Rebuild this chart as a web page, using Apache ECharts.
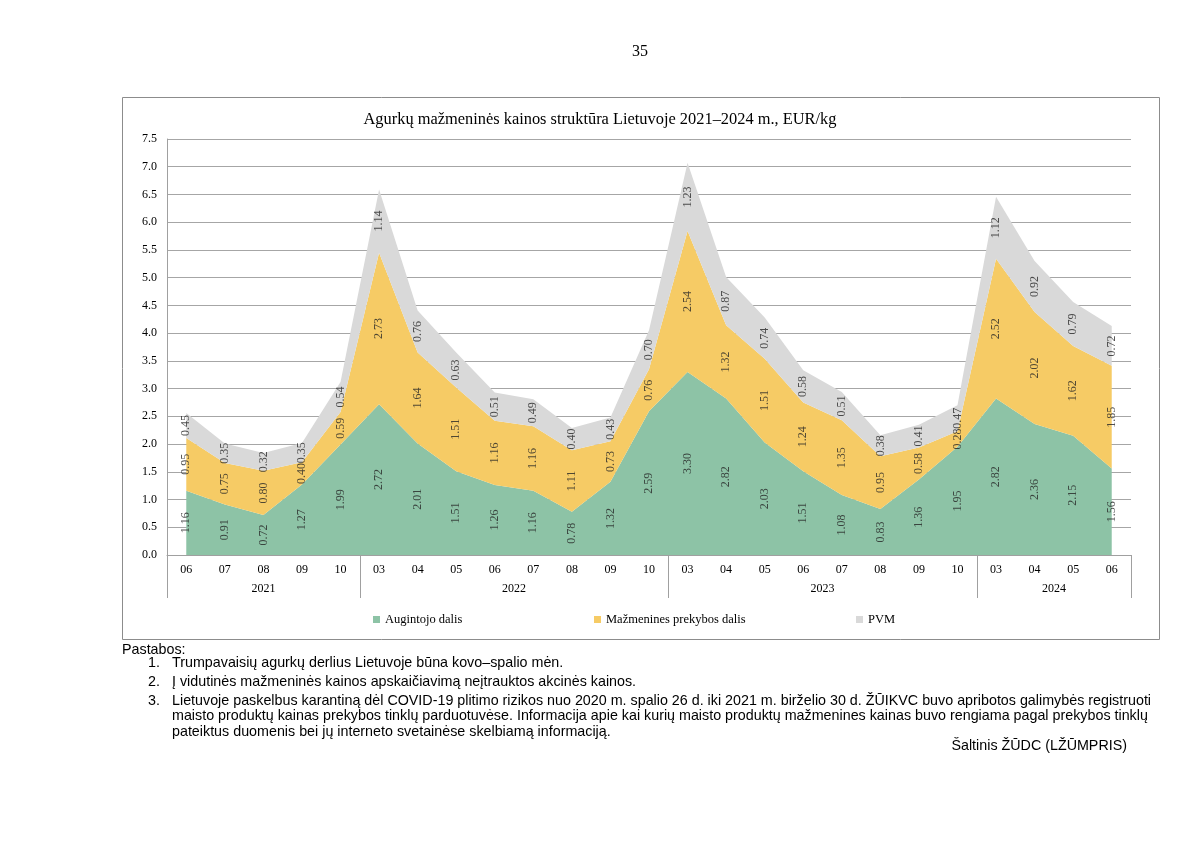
<!DOCTYPE html>
<html>
<head>
<meta charset="utf-8">
<script src="https://cdn.jsdelivr.net/npm/echarts@6/dist/echarts.min.js"></script>
<style>
html,body{margin:0;padding:0;background:#fff;}
#chart{width:1200px;height:849px;}
</style>
</head>
<body>
<div id="chart"></div>
<script>
// ---- data ----
const months = ['06','07','08','09','10',
  '03','04','05','06','07','08','09','10',
  '03','04','05','06','07','08','09','10',
  '03','04','05','06'];
const yearOfCategory = ['2021','2021','2021','2021','2021',
  '2022','2022','2022','2022','2022','2022','2022','2022',
  '2023','2023','2023','2023','2023','2023','2023','2023',
  '2024','2024','2024','2024'];
const augintojo = [1.16,0.91,0.72,1.27,1.99,
  2.72,2.01,1.51,1.26,1.16,0.78,1.32,2.59,
  3.30,2.82,2.03,1.51,1.08,0.83,1.36,1.95,
  2.82,2.36,2.15,1.56];
const mazmenines = [0.95,0.75,0.80,0.40,0.59,
  2.73,1.64,1.51,1.16,1.16,1.11,0.73,0.76,
  2.54,1.32,1.51,1.24,1.35,0.95,0.58,0.28,
  2.52,2.02,1.62,1.85];
const pvm = [0.45,0.35,0.32,0.35,0.54,
  1.14,0.76,0.63,0.51,0.49,0.40,0.43,0.70,
  1.23,0.87,0.74,0.58,0.51,0.38,0.41,0.47,
  1.12,0.92,0.79,0.72];
const seriesNames = ['Augintojo dalis','Mažmenines prekybos dalis','PVM'];
const colors = ['#8dc3a6','#f6cb65','#d9d9d9'];

// ---- derived year groups ----
const groups = [];
yearOfCategory.forEach((y,i)=>{
  if(!groups.length || groups[groups.length-1].year!==y) groups.push({year:y,start:i,end:i+1});
  else groups[groups.length-1].end=i+1;
});
const boundaries = [0].concat(groups.map(g=>g.end));
const mids = groups.map(g=>(g.start+g.end)/2);

const bands = [augintojo, mazmenines, pvm];
const serif = '"Liberation Serif","Times New Roman",serif';
const sans = '"Liberation Sans",Arial,sans-serif';

const series = [];
bands.forEach((arr,k)=>{
  series.push({
    name: seriesNames[k], type:'line', stack:'total', data:arr,
    symbol:'none', lineStyle:{width:0}, areaStyle:{color:colors[k],opacity:1},
    itemStyle:{color:colors[k]}, silent:true, emphasis:{disabled:true}
  });
});
bands.forEach((arr,k)=>{
  const d = arr.map((v,i)=>{
    let base=0; for(let j=0;j<k;j++) base+=bands[j][i];
    return [i, base+v/2, v];
  });
  series.push({
    type:'scatter', data:d, symbolSize:0, silent:true, z:5,
    label:{show:true, position:'inside', rotate:90, fontFamily:serif, fontSize:12, color:'#262626',
      formatter:p=>p.data[2].toFixed(2)}
  });
});

const notes = [
  {x:148, y:663, t:'1.'},
  {x:172, y:663, t:'Trumpavaisių agurkų derlius Lietuvoje būna kovo–spalio mėn.'},
  {x:148, y:682, t:'2.'},
  {x:172, y:682, t:'Į vidutinės mažmeninės kainos apskaičiavimą neįtrauktos akcinės kainos.'},
  {x:148, y:701, t:'3.'},
  {x:172, y:701, t:'Lietuvoje paskelbus karantiną dėl COVID-19 plitimo rizikos nuo 2020 m. spalio 26 d. iki 2021 m. birželio 30 d. ŽŪIKVC buvo apribotos galimybės registruoti'},
  {x:172, y:716, t:'maisto produktų kainas prekybos tinklų parduotuvėse. Informacija apie kai kurių maisto produktų mažmenines kainas buvo rengiama pagal prekybos tinklų'},
  {x:172, y:732, t:'pateiktus duomenis bei jų interneto svetainėse skelbiamą informaciją.'}
];
const noteFont = '14.3px ' + sans;

const chart = echarts.init(document.getElementById('chart'));
chart.setOption({
  animation:false,
  backgroundColor:'#fff',
  title:{text:'Agurkų mažmeninės kainos struktūra Lietuvoje 2021–2024 m., EUR/kg', left:'center', top:107,
    textStyle:{fontFamily:serif, fontSize:16.4, fontWeight:'normal', color:'#000'}},
  grid:{left:167, right:69, top:139, bottom:294},
  legend:[0,1,2].map(k=>({
    data:[seriesNames[k]], left:[368,589,851][k], top:608, icon:'rect', itemWidth:7, itemHeight:7, itemGap:5,
    selectedMode:false, textStyle:{fontFamily:serif, fontSize:12.5, color:'#000'}
  })),
  xAxis:[
    {type:'category', data:months, boundaryGap:true,
      axisLine:{lineStyle:{color:'#a0a0a0', width:1}}, axisTick:{show:false},
      axisLabel:{margin:9, fontFamily:serif, fontSize:12, color:'#000', interval:0}},
    {type:'value', min:0, max:boundaries[boundaries.length-1], position:'bottom',
      axisLine:{show:false}, splitLine:{show:false},
      axisTick:{show:true, customValues:boundaries, length:43, lineStyle:{color:'#a0a0a0', width:1}},
      axisLabel:{customValues:mids, margin:28, fontFamily:serif, fontSize:12, color:'#000',
        formatter:v=>{const g=groups.find(g=>Math.abs((g.start+g.end)/2-v)<1e-6); return g?g.year:'';}}}
  ],
  yAxis:{type:'value', min:0, max:7.5, interval:0.5,
    axisLine:{show:true, lineStyle:{color:'#a0a0a0'}}, axisTick:{show:false},
    splitLine:{lineStyle:{color:'#a6a6a6', width:1}},
    axisLabel:{margin:10, fontFamily:serif, fontSize:12, color:'#000', formatter:v=>v.toFixed(1)}},
  series:series,
  graphic:[
    {type:'rect', shape:{x:122.5, y:97.5, width:1037, height:542}, style:{fill:null, stroke:'#8c8c8c', lineWidth:1}, silent:true, z:-1},
    {type:'text', x:640, y:52, style:{text:'35', font:'16px '+serif, fill:'#000', align:'center', verticalAlign:'middle'}},
    {type:'text', x:122, y:650, style:{text:'Pastabos:', font:noteFont, fill:'#000', verticalAlign:'middle'}}
  ].concat(notes.map(n=>({type:'text', x:n.x, y:n.y, style:{text:n.t, font:noteFont, fill:'#000', verticalAlign:'middle'}})))
   .concat([{type:'text', x:1127, y:746, style:{text:'Šaltinis ŽŪDC (LŽŪMPRIS)', font:noteFont, fill:'#000', align:'right', verticalAlign:'middle'}}])
});
</script>
</body>
</html>
